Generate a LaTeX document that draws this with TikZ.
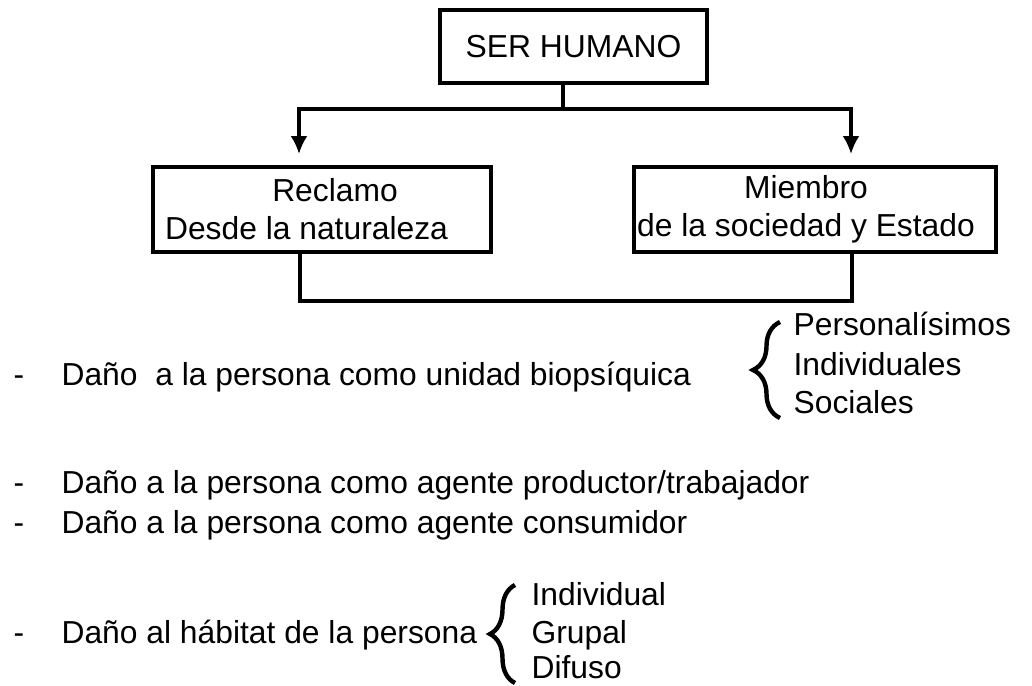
\documentclass[tikz,border=0pt]{standalone}
\usepackage{fontspec}
\setmainfont{Liberation Sans}
\usetikzlibrary{arrows.meta, positioning, decorations.pathreplacing}

\tikzset{
  box/.style={draw, line width=2pt, inner sep=1pt, align=center},
  txt/.style={anchor=base west, inner sep=0pt},
  curly/.style={decorate, line width=2.2pt, decoration={brace, amplitude=#1}},
}

\begin{document}
\begin{tikzpicture}[x=0.5pt, y=-0.5pt, >={Latex[length=9pt,width=8.5pt]}, line width=1.6pt, font=\fontsize{15.9}{19}\selectfont]
\useasboundingbox (0,0) rectangle (1032,685);

\node[box, minimum width=133.5pt, minimum height=36.5pt] (hum) at (573.5,46.5) {SER HUMANO};
\node[box, minimum width=169pt, minimum height=42.5pt] (rec) at (322,209.5) {\hspace*{13pt}Reclamo\\Desde la naturaleza\hspace*{15.5pt}};
\node[box, minimum width=181pt, minimum height=42.5pt] (mie) at (815,209.5) {Miembro\hspace*{9pt}\\de la sociedad y Estado\hspace*{9pt}};

\coordinate (split) at ([xshift=-5.25pt, yshift=-12pt] hum.south);
\draw ([xshift=-5.25pt] hum.south) -- (split);
\draw[->, shorten >=5.5pt] (split) -| ([xshift=-11.5pt] rec.north);
\draw[->, shorten >=5.5pt] (split) -| ([xshift=18pt] mie.north);
\draw ([xshift=-11pt] rec.south) |- ([xshift=18.5pt, yshift=-23.5pt] mie.south) -- ([xshift=18.5pt] mie.south);

\foreach \y/\n in {385/1, 493/2, 533/3, 643/4}
  \node[txt] (dash\n) at (12,\y) {-};

\node[txt] (bio) at (60,385) {Daño\ \ a la persona como unidad biopsíquica};
\node[txt] (prod) at (60,493) {Daño a la persona como agente productor/trabajador};
\node[txt] (cons) at (60,533) {Daño a la persona como agente consumidor};
\node[txt] (hab) at (60,643) {Daño al hábitat de la persona};

\node[txt] (pers) at (792,335) {Personalísimos};
\node[txt] (indiv) at (792,375) {Individuales};
\node[txt] (soc) at (792,413) {Sociales};
\draw[curly=13.5pt] ([xshift=-6pt, yshift=-2.5pt] soc.base west) -- ([xshift=-6pt, yshift=6.5pt] pers.base west);

\node[txt] (ind) at (530,605) {Individual};
\node[txt] (gru) at (530,643) {Grupal};
\node[txt] (dif) at (530,678) {Difuso};
\draw[curly=12.5pt] ([xshift=-7.5pt, yshift=-2.5pt] dif.base west) -- ([xshift=-7.5pt, yshift=10pt] ind.base west);
\end{tikzpicture}
\end{document}
